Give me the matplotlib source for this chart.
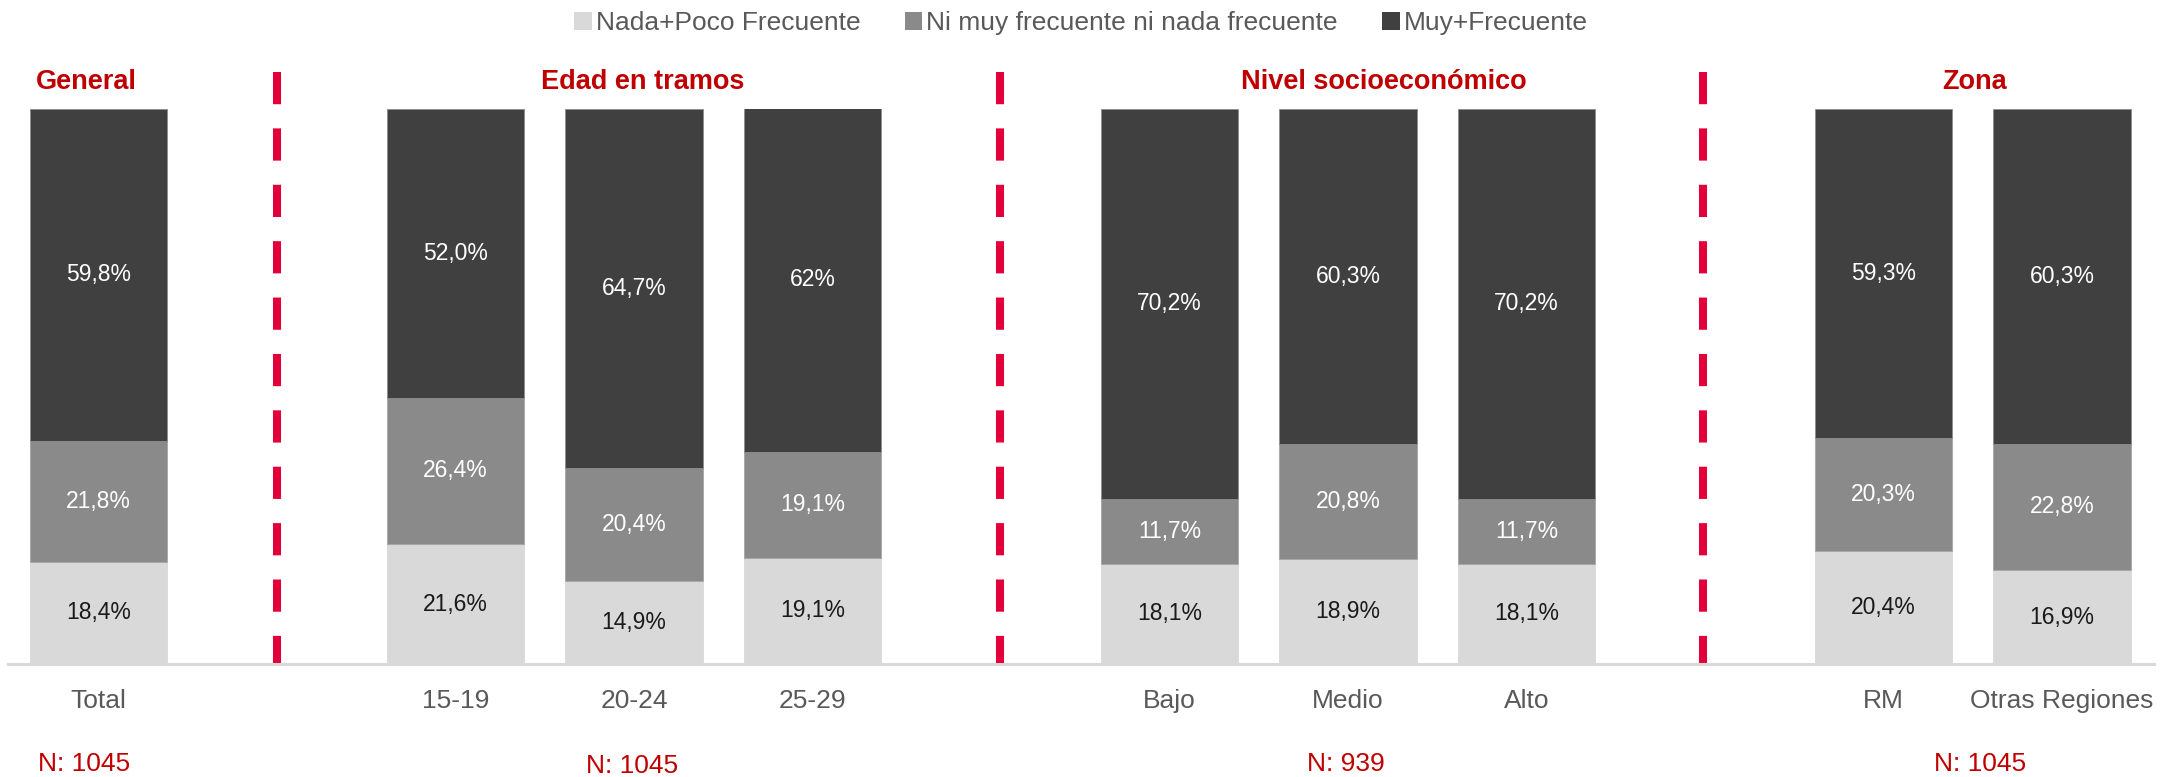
import numpy as np
import matplotlib
matplotlib.use('Agg')
import matplotlib.pyplot as plt
from matplotlib.patches import Patch

plt.rcParams['font.family'] = ['Liberation Sans', 'DejaVu Sans']

# data
categorias = ['Total', '15-19', '20-24', '25-29', 'Bajo', 'Medio', 'Alto', 'RM', 'Otras Regiones']
posiciones = [0, 2, 3, 4, 6, 7, 8, 10, 11]
nada_poco = [18.4, 21.6, 14.9, 19.1, 18.1, 18.9, 18.1, 20.4, 16.9]
ni_muy = [21.8, 26.4, 20.4, 19.1, 11.7, 20.8, 11.7, 20.3, 22.8]
muy_frec = [59.8, 52.0, 64.7, 62.0, 70.2, 60.3, 70.2, 59.3, 60.3]
muy_frec_txt = ['59,8%', '52,0%', '64,7%', '62%', '70,2%', '60,3%', '70,2%', '59,3%', '60,3%']

series = ['Nada+Poco Frecuente', 'Ni muy frecuente ni nada frecuente', 'Muy+Frecuente']
colores = ['#D9D9D9', '#8A8A8A', '#404040']

grupos = ['General', 'Edad en tramos', 'Nivel socioeconómico', 'Zona']
grupos_x = [-0.07, 3.05, 7.2, 10.51]
n_txt = ['N: 1045', 'N: 1045', 'N: 939', 'N: 1045']
n_x = [-0.08, 2.99, 6.99, 10.54]
separadores = [1.0, 5.05, 8.99]

ROJO = '#C00000'


def fmt(v):
    return ('%.1f' % v).replace('.', ',') + '%'


fig = plt.figure(figsize=(21.6, 7.77), dpi=100)
ax = fig.add_axes([8 / 2160, 113 / 777, 2146 / 2160, 555 / 777])
ax.set_xlim(-0.507, 11.515)
ax.set_ylim(0, 100)

w = 0.77
pos = np.array(posiciones)
ax.bar(pos, nada_poco, w, color=colores[0], edgecolor=colores[0], linewidth=0.6)
ax.bar(pos, ni_muy, w, bottom=nada_poco, color=colores[1], edgecolor='#A6A6A6', linewidth=0.6)
base3 = np.array(nada_poco) + np.array(ni_muy)
ax.bar(pos, muy_frec, w, bottom=base3, color=colores[2], edgecolor='#8C8C8C', linewidth=0.6)

for x, a, b, c, ct in zip(pos, nada_poco, ni_muy, muy_frec, muy_frec_txt):
    ax.text(x, a / 2, fmt(a), ha='center', va='center', fontsize=16.5, color='#1a1a1a')
    ax.text(x, a + b / 2, fmt(b), ha='center', va='center', fontsize=16.5, color='white')
    ax.text(x, a + b + c / 2, ct, ha='center', va='center', fontsize=16.5, color='white')

# separators
for sx in separadores:
    ax.plot([sx, sx], [106.6, 0], color='#E3003A', lw=5.8, ls=(0, (4, 3)),
            solid_capstyle='butt', dash_capstyle='butt', clip_on=False)

# group headers
for g, gx in zip(grupos, grupos_x):
    ax.text(gx, 103.6, g, ha='center', va='baseline', fontsize=19.5,
            fontweight='bold', color=ROJO)

# category labels
for c, x in zip(categorias, posiciones):
    ax.text(x, -7.9, c, ha='center', va='baseline', fontsize=19, color='#595959')

# N labels
for i, (t, x) in enumerate(zip(n_txt, n_x)):
    y = -19.7 if i == 1 else -19.2
    ax.text(x, y, t, ha='center', va='baseline', fontsize=19, color=ROJO)

ax.set_xticks([])
ax.set_yticks([])
for s in ['top', 'right', 'left']:
    ax.spines[s].set_visible(False)
ax.spines['bottom'].set_color('#D9D9D9')
ax.spines['bottom'].set_linewidth(2.2)

handles = [Patch(facecolor=c, edgecolor='none') for c in colores]
fig.legend(handles, series, loc='center', bbox_to_anchor=(1081 / 2160, 0.970),
           ncol=3, frameon=False, fontsize=19, labelcolor='#595959',
           handlelength=0.65, handleheight=0.7, handletextpad=0.15,
           columnspacing=1.7)

fig.savefig('out.png', dpi=100)
